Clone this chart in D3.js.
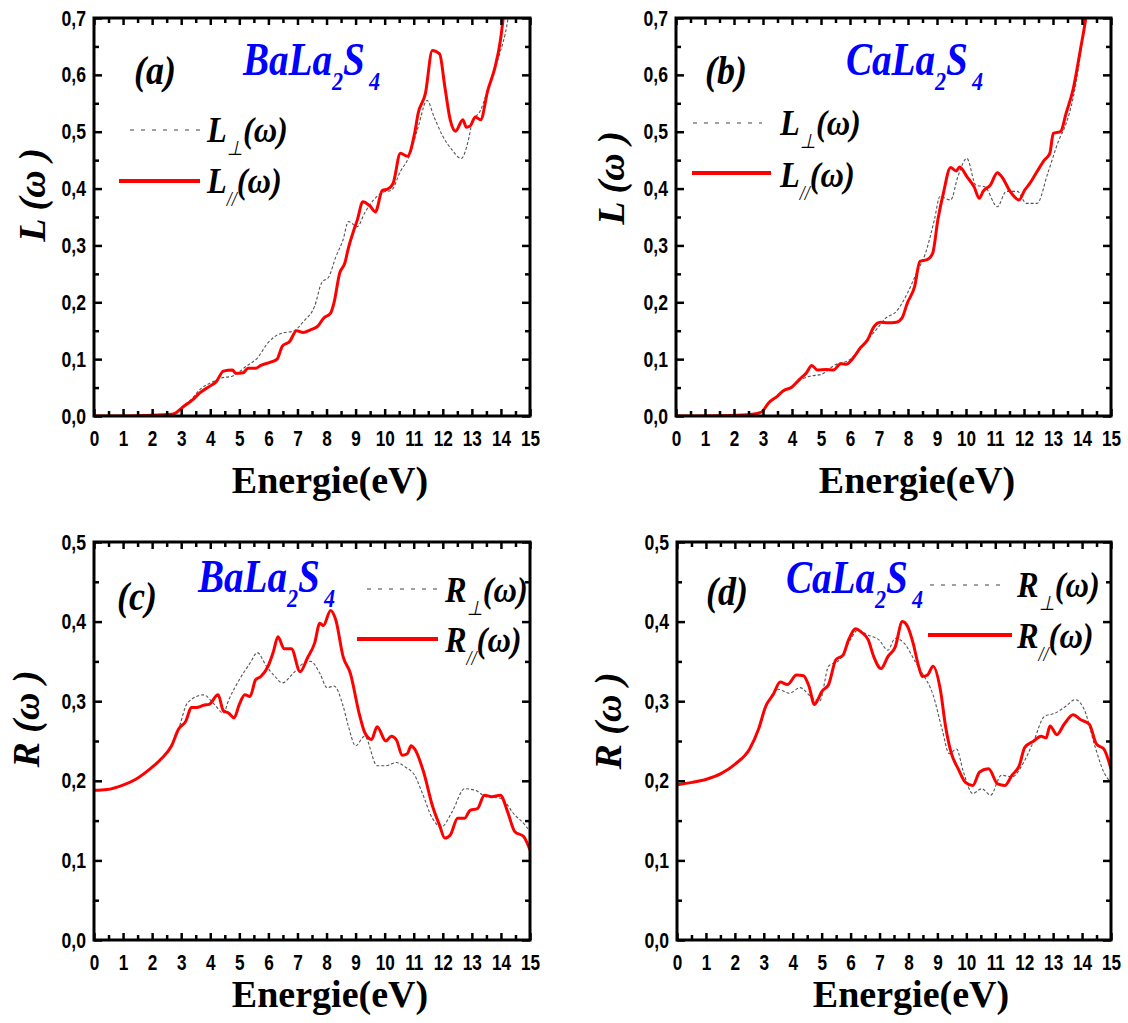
<!DOCTYPE html>
<html>
<head>
<meta charset="utf-8">
<script src="https://cdn.jsdelivr.net/npm/d3@7"></script>
<style>body{margin:0;background:#fff}</style>
</head>
<body>
<svg id="chart" width="1128" height="1023"></svg>
<script>
// energy axis (eV) and tick values
const energyTicks = d3.range(0, 16);
const energyMinor = d3.range(0.5, 15, 1);

// (a) loss function L, BaLa2S4  [E, L]
const aPar = [[0,0],[1.0,0],[1.8,0.001],[2.67,0.003],[2.8,0.005],[3.04,0.015],[3.4,0.029],[3.65,0.041],[4.0,0.053],[4.2,0.06],[4.45,0.079],[4.76,0.081],[4.88,0.075],[5.13,0.076],[5.3,0.084],[5.56,0.084],[5.74,0.089],[6.1,0.095],[6.3,0.1],[6.48,0.123],[6.73,0.131],[6.97,0.15],[7.2,0.147],[7.46,0.152],[7.7,0.158],[7.9,0.172],[8.14,0.181],[8.26,0.2],[8.45,0.251],[8.63,0.269],[8.75,0.295],[8.94,0.327],[9.06,0.345],[9.25,0.377],[9.5,0.369],[9.68,0.359],[9.92,0.397],[10.1,0.399],[10.29,0.409],[10.54,0.462],[10.78,0.457],[11.03,0.497],[11.15,0.532],[11.4,0.567],[11.64,0.643],[11.89,0.637],[12.07,0.579],[12.26,0.52],[12.44,0.501],[12.69,0.521],[12.81,0.508],[12.94,0.51],[13.12,0.526],[13.3,0.521],[13.55,0.573],[13.8,0.614],[13.98,0.66],[14.1,0.71],[14.2,0.76]];
const aPerp = [[0,0],[1.8,0.001],[2.67,0.003],[2.8,0.005],[3.04,0.016],[3.4,0.032],[3.65,0.047],[4.0,0.058],[4.39,0.067],[4.76,0.07],[5.25,0.088],[5.62,0.102],[5.99,0.129],[6.23,0.14],[6.48,0.146],[6.85,0.149],[7.22,0.167],[7.59,0.193],[7.83,0.234],[8.08,0.245],[8.32,0.28],[8.57,0.31],[8.75,0.342],[9.06,0.333],[9.31,0.357],[9.62,0.38],[9.92,0.393],[10.23,0.397],[10.54,0.43],[10.84,0.456],[11.15,0.508],[11.46,0.555],[11.7,0.526],[12.01,0.491],[12.32,0.468],[12.63,0.453],[12.88,0.485],[13.0,0.514],[13.3,0.538],[13.61,0.584],[13.92,0.631],[14.23,0.695],[14.3,0.72]];

// (b) loss function L, CaLa2S4
const bPar = [[0,0],[1.89,0.001],[2.63,0.003],[2.95,0.007],[3.19,0.023],[3.5,0.035],[3.69,0.044],[4.0,0.051],[4.25,0.064],[4.5,0.076],[4.68,0.089],[4.87,0.081],[5.18,0.082],[5.43,0.081],[5.68,0.092],[5.87,0.091],[6.11,0.102],[6.36,0.12],[6.61,0.134],[6.8,0.155],[7.05,0.165],[7.29,0.164],[7.6,0.165],[7.79,0.172],[7.98,0.199],[8.23,0.228],[8.41,0.272],[8.66,0.275],[8.85,0.286],[9.03,0.345],[9.22,0.392],[9.47,0.437],[9.66,0.431],[9.78,0.438],[10.03,0.421],[10.28,0.403],[10.46,0.383],[10.59,0.395],[10.84,0.406],[11.08,0.428],[11.27,0.418],[11.52,0.395],[11.83,0.38],[12.02,0.397],[12.2,0.409],[12.45,0.43],[12.7,0.45],[12.89,0.462],[13.01,0.497],[13.26,0.5],[13.45,0.532],[13.7,0.576],[13.94,0.643],[14.13,0.7],[14.25,0.75]];
const bPerp = [[0,0],[1.89,0.001],[2.63,0.003],[2.95,0.007],[3.19,0.022],[3.5,0.034],[3.69,0.043],[4.0,0.05],[4.25,0.062],[4.62,0.07],[5.0,0.073],[5.49,0.09],[5.99,0.099],[6.49,0.129],[6.86,0.149],[7.23,0.172],[7.6,0.184],[7.98,0.216],[8.29,0.251],[8.6,0.286],[8.91,0.345],[9.1,0.386],[9.47,0.38],[9.72,0.421],[10.03,0.453],[10.34,0.406],[10.65,0.403],[11.08,0.368],[11.39,0.395],[11.77,0.395],[12.08,0.374],[12.45,0.374],[12.82,0.427],[13.2,0.485],[13.45,0.514],[13.7,0.561],[14.07,0.684],[14.2,0.74]];

// (c) reflectivity R, BaLa2S4
const cPar = [[0,0.188],[0.45,0.189],[0.95,0.194],[1.44,0.202],[1.93,0.215],[2.3,0.227],[2.67,0.244],[2.91,0.265],[3.16,0.275],[3.35,0.292],[3.53,0.292],[3.77,0.295],[3.96,0.296],[4.27,0.308],[4.45,0.288],[4.64,0.285],[4.82,0.279],[5.0,0.296],[5.19,0.308],[5.37,0.306],[5.56,0.327],[5.74,0.331],[5.99,0.344],[6.17,0.362],[6.33,0.381],[6.54,0.366],[6.79,0.366],[7.09,0.337],[7.34,0.354],[7.59,0.373],[7.77,0.398],[7.89,0.395],[8.14,0.414],[8.32,0.402],[8.57,0.356],[8.82,0.335],[9.12,0.285],[9.31,0.261],[9.55,0.252],[9.74,0.268],[10.04,0.25],[10.23,0.256],[10.41,0.251],[10.6,0.232],[10.78,0.234],[10.91,0.244],[11.03,0.24],[11.34,0.211],[11.64,0.169],[11.89,0.144],[12.07,0.128],[12.26,0.132],[12.51,0.153],[12.75,0.153],[12.94,0.163],[13.19,0.165],[13.43,0.182],[13.68,0.18],[13.98,0.182],[14.23,0.161],[14.48,0.136],[14.78,0.13],[15,0.113]];
const cPerp = [[0,0.188],[0.45,0.189],[0.95,0.194],[1.44,0.202],[1.93,0.215],[2.3,0.227],[2.67,0.244],[2.91,0.265],[3.22,0.298],[3.77,0.308],[4.14,0.296],[4.45,0.285],[4.64,0.302],[5.0,0.327],[5.37,0.348],[5.62,0.361],[5.93,0.344],[6.23,0.331],[6.48,0.323],[6.85,0.335],[7.22,0.348],[7.46,0.35],[7.77,0.335],[8.02,0.317],[8.26,0.319],[8.57,0.294],[8.75,0.269],[9.0,0.244],[9.31,0.256],[9.74,0.219],[10.04,0.219],[10.41,0.223],[10.72,0.217],[11.03,0.207],[11.28,0.186],[11.64,0.153],[11.95,0.142],[12.32,0.161],[12.75,0.19],[13.12,0.188],[13.49,0.18],[13.98,0.178],[14.48,0.157],[14.84,0.144],[15,0.136]];

// (d) reflectivity R, CaLa2S4
const dPar = [[0,0.195],[0.52,0.198],[1.02,0.202],[1.52,0.209],[2.01,0.221],[2.51,0.24],[2.82,0.265],[3.07,0.294],[3.32,0.308],[3.57,0.324],[3.82,0.321],[4.13,0.333],[4.37,0.332],[4.56,0.319],[4.75,0.296],[4.87,0.302],[5.0,0.312],[5.24,0.321],[5.49,0.352],[5.74,0.358],[5.93,0.377],[6.18,0.391],[6.36,0.387],[6.61,0.377],[6.8,0.356],[7.05,0.341],[7.29,0.356],[7.54,0.368],[7.79,0.4],[7.98,0.393],[8.16,0.373],[8.35,0.344],[8.48,0.331],[8.66,0.333],[8.85,0.344],[9.1,0.315],[9.28,0.269],[9.47,0.236],[9.72,0.215],[9.97,0.198],[10.22,0.194],[10.46,0.211],[10.77,0.215],[11.08,0.196],[11.33,0.194],[11.58,0.207],[11.83,0.219],[12.02,0.242],[12.33,0.25],[12.58,0.256],[12.76,0.254],[12.89,0.269],[13.13,0.258],[13.38,0.271],[13.69,0.283],[13.94,0.277],[14.25,0.271],[14.5,0.246],[14.75,0.24],[15,0.215]];
const dPerp = [[0,0.195],[0.52,0.198],[1.02,0.202],[1.52,0.209],[2.01,0.221],[2.51,0.24],[2.82,0.265],[3.07,0.292],[3.5,0.315],[3.88,0.31],[4.25,0.317],[4.62,0.306],[4.93,0.3],[5.24,0.344],[5.62,0.352],[5.99,0.377],[6.24,0.389],[6.61,0.383],[6.98,0.377],[7.29,0.364],[7.54,0.379],[7.85,0.373],[8.23,0.35],[8.48,0.335],[8.85,0.308],[9.16,0.265],[9.41,0.234],[9.66,0.24],[9.9,0.211],[10.22,0.184],[10.53,0.19],[10.84,0.182],[11.21,0.207],[11.58,0.205],[11.95,0.221],[12.33,0.25],[12.7,0.281],[13.07,0.285],[13.45,0.294],[13.76,0.302],[14.07,0.29],[14.44,0.244],[14.75,0.211],[15,0.198]];

// y tick values
const lossTicks = d3.range(0, 8).map(i => i / 10);
const lossMinor = d3.range(0, 7).map(i => i / 10 + 0.05);
const reflTicks = d3.range(0, 6).map(i => i / 10);
const reflMinor = d3.range(0, 5).map(i => i / 10 + 0.05);

const svg = d3.select("#chart");
const comma = d3.formatLocale({decimal: ",", thousands: ".", grouping: [3], currency: ["", ""]}).format(".1f");
const SERIF = "'Liberation Serif', 'Times New Roman', serif";
const SANS = "'Liberation Sans', Arial, sans-serif";

const panels = [
  {id: "a", par: aPar, perp: aPerp, ymax: 0.7, yt: lossTicks, ym: lossMinor, q: "L", tag: "(a)", name: ["BaLa", "S"],
   left: 94, right: 530, top: 18, bottom: 416, tagX: 155, tagY: 84, nameX: 243, nameY: 75,
   dashL: [130, 200, 130], solidL: [119, 200, 181], legX: 207, legY1: 142, legY2: 193, ytX: 32, ytY: 195, xtX: 330, xtY: 493},
  {id: "b", par: bPar, perp: bPerp, ymax: 0.7, yt: lossTicks, ym: lossMinor, q: "L", tag: "(b)", name: ["CaLa", "S"],
   left: 676, right: 1111, top: 18, bottom: 416, tagX: 726, tagY: 84, nameX: 846, nameY: 75,
   dashL: [693, 762, 123], solidL: [692, 771, 173], legX: 780, legY1: 135, legY2: 187, ytX: 611, ytY: 178, xtX: 917, xtY: 493},
  {id: "c", par: cPar, perp: cPerp, ymax: 0.5, yt: reflTicks, ym: reflMinor, q: "R", tag: "(c)", name: ["BaLa", "S"],
   left: 94, right: 530, top: 542, bottom: 940, tagX: 137, tagY: 610, nameX: 198, nameY: 592,
   dashL: [367, 437, 589], solidL: [357, 438, 639], legX: 445, legY1: 602, legY2: 652, ytX: 26, ytY: 719, xtX: 330, xtY: 1007},
  {id: "d", par: dPar, perp: dPerp, ymax: 0.5, yt: reflTicks, ym: reflMinor, q: "R", tag: "(d)", name: ["CaLa", "S"],
   left: 677, right: 1111, top: 542, bottom: 940, tagX: 727, tagY: 605, nameX: 786, nameY: 593,
   dashL: [930, 1001, 585], solidL: [928, 1012, 635], legX: 1017, legY1: 597, legY2: 648, ytX: 608, ytY: 721, xtX: 911, xtY: 1007}
];

function ticks(g, axis, transform, values, size, fmt) {
  const a = g.append("g").attr("transform", transform)
    .call(axis.tickValues(values).tickSize(-size).tickFormat(fmt || ""));
  a.select(".domain").remove();
  a.selectAll("line").attr("stroke", "#000").attr("stroke-width", 2.5);
  a.selectAll("text").attr("fill", "#000").attr("font-family", SANS)
    .attr("font-weight", "bold").attr("font-size", 22);
  return a;
}

function drawPanel(p) {
  const x = d3.scaleLinear().domain([0, 15]).range([p.left, p.right]);
  const y = d3.scaleLinear().domain([0, p.ymax]).range([p.bottom, p.top]);
  const g = svg.append("g");

  g.append("clipPath").attr("id", "clip-" + p.id).append("rect")
    .attr("x", p.left).attr("y", p.top)
    .attr("width", p.right - p.left).attr("height", p.bottom - p.top);

  const line = d3.line().x(d => x(d[0])).y(d => y(d[1])).curve(d3.curveMonotoneX);
  const plot = g.append("g").attr("clip-path", `url(#clip-${p.id})`);
  plot.append("path").datum(p.perp).attr("fill", "none").attr("stroke", "#555")
    .attr("stroke-width", 1.1).attr("stroke-dasharray", "3,2").attr("d", line);
  plot.append("path").datum(p.par).attr("fill", "none").attr("stroke", "#ff0000")
    .attr("stroke-width", 3).attr("stroke-linejoin", "round").attr("d", line);

  // ticks on all four sides, pointing inward
  const bx = ticks(g, d3.axisBottom(x).tickPadding(14), `translate(0,${p.bottom})`, energyTicks, 7, d3.format("d"));
  bx.selectAll("text").attr("transform", "scale(0.78,1)");
  ticks(g, d3.axisBottom(x), `translate(0,${p.bottom})`, energyMinor, 5);
  ticks(g, d3.axisTop(x), `translate(0,${p.top})`, energyTicks, 7);
  ticks(g, d3.axisTop(x), `translate(0,${p.top})`, energyMinor, 5);
  const ly = ticks(g, d3.axisLeft(y).tickPadding(10), `translate(${p.left},0)`, p.yt, 8, comma);
  ly.selectAll("text").attr("transform", "scale(0.8,1)");
  ticks(g, d3.axisLeft(y), `translate(${p.left},0)`, p.ym, 5);
  ticks(g, d3.axisRight(y), `translate(${p.right},0)`, p.yt, 8);
  ticks(g, d3.axisRight(y), `translate(${p.right},0)`, p.ym, 5);

  g.append("rect").attr("x", p.left).attr("y", p.top)
    .attr("width", p.right - p.left).attr("height", p.bottom - p.top)
    .attr("fill", "none").attr("stroke", "#000").attr("stroke-width", 3);

  // axis titles
  g.append("text").attr("x", p.xtX).attr("y", p.xtY).attr("text-anchor", "middle")
    .attr("font-family", SERIF).attr("font-weight", "bold").attr("font-size", 38)
    .text("Energie(eV)");
  g.append("text").attr("transform", `translate(${p.ytX},${p.ytY}) rotate(-90)`)
    .attr("text-anchor", "middle").attr("dominant-baseline", "central")
    .attr("font-family", SERIF).attr("font-weight", "bold").attr("font-style", "italic")
    .attr("font-size", 38).text(p.q + " (ω )");

  // panel tag
  g.append("text").attr("transform", `translate(${p.tagX},${p.tagY}) scale(0.9,1)`)
    .attr("text-anchor", "middle").attr("font-family", SERIF).attr("font-weight", "bold")
    .attr("font-style", "italic").attr("font-size", 40).text(p.tag);

  // compound name with subscripts
  const nm = g.append("text").attr("transform", `translate(${p.nameX},${p.nameY}) scale(0.85,1)`)
    .attr("font-family", SERIF).attr("font-weight", "bold").attr("font-style", "italic")
    .attr("font-size", 46).attr("fill", "#0000ff");
  nm.append("tspan").text(p.name[0]);
  nm.append("tspan").attr("dy", 15).attr("font-size", 26).text("2");
  nm.append("tspan").attr("dy", -15).text(p.name[1]);
  nm.append("tspan").attr("dy", 15).attr("dx", 5).attr("font-size", 26).text("4");

  // legend
  g.append("line").attr("x1", p.dashL[0]).attr("x2", p.dashL[1]).attr("y1", p.dashL[2]).attr("y2", p.dashL[2])
    .attr("stroke", "#444").attr("stroke-width", 1.2).attr("stroke-dasharray", "4,7");
  g.append("line").attr("x1", p.solidL[0]).attr("x2", p.solidL[1]).attr("y1", p.solidL[2]).attr("y2", p.solidL[2])
    .attr("stroke", "#ff0000").attr("stroke-width", 4);
  [[p.legY1, "⊥"], [p.legY2, "//"]].forEach(([ly2, sub]) => {
    const t = g.append("text").attr("transform", `translate(${p.legX},${ly2}) scale(0.9,1)`)
      .attr("font-family", SERIF).attr("font-weight", "bold").attr("font-style", "italic")
      .attr("font-size", 36).attr("fill", "#000");
    t.append("tspan").text(p.q);
    t.append("tspan").attr("dy", 13).attr("font-size", 20).attr("font-weight", "normal").text(sub);
    t.append("tspan").attr("dy", -13).text("(ω)");
  });
}

panels.forEach(drawPanel);
</script>
</body>
</html>
